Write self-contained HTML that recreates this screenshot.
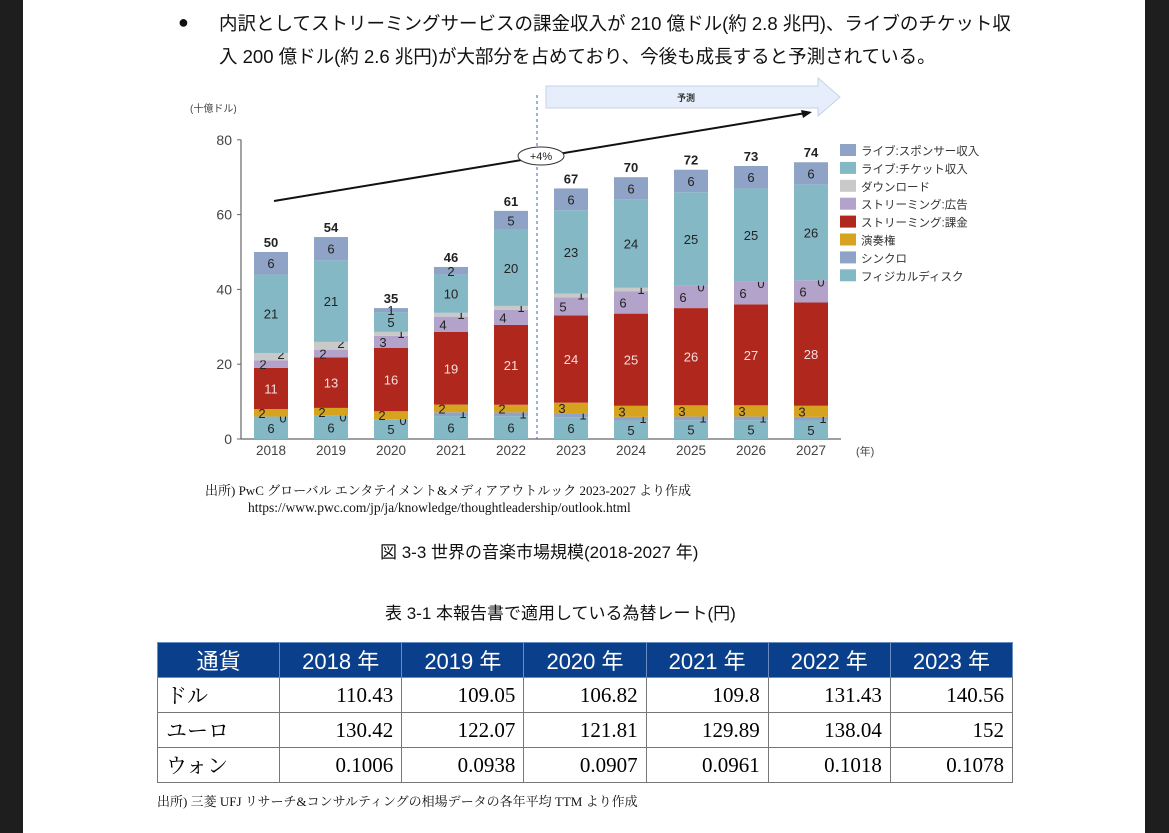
<!DOCTYPE html>
<html><head><meta charset="utf-8"><style>
body{margin:0;width:1169px;height:833px;background:#1e1e1e;overflow:hidden;font-family:"Liberation Sans","Noto Sans CJK JP",sans-serif}
#page{position:absolute;left:23px;top:0;width:1122px;height:833px;background:#fff}
.t{position:absolute;white-space:nowrap;color:#111}
table{position:absolute;left:157px;top:642px;width:856px;table-layout:fixed;border-collapse:collapse;font-family:"Liberation Serif","Noto Serif CJK SC",serif}
td,th{border:1.5px solid #777;height:35px;padding:0 8px;font-size:21px;box-sizing:border-box}
th{background:#0a3f8c;color:#fff;font-weight:normal;font-family:"Liberation Sans","Noto Sans CJK JP",sans-serif;border-color:#6a8cc0;font-size:22px}
td{text-align:right}
td:first-child{text-align:left}
</style></head><body>
<div id="page"></div>
<div class="t" style="left:178px;top:12px;font-size:18px">●</div>
<div class="t" style="left:219px;top:10px;font-size:18.5px">内訳としてストリーミングサービスの課金収入が 210 億ドル(約 2.8 兆円)、ライブのチケット収</div>
<div class="t" style="left:219px;top:43px;font-size:18.5px">入 200 億ドル(約 2.6 兆円)が大部分を占めており、今後も成長すると予測されている。</div>

<svg id="chart" style="position:absolute;left:0;top:0" width="1169" height="470"></svg>

<div class="t" style="left:205px;top:480px;font-size:13px;font-family:'Liberation Serif','Noto Serif CJK JP',serif">出所) PwC グローバル エンタテイメント&amp;メディアアウトルック 2023-2027 より作成</div>
<div class="t" style="left:248px;top:500px;font-size:13.5px;font-family:'Liberation Serif',serif">https://www.pwc.com/jp/ja/knowledge/thoughtleadership/outlook.html</div>
<div class="t" style="left:380px;top:538px;font-size:17px">図 3-3 世界の音楽市場規模(2018-2027 年)</div>
<div class="t" style="left:385px;top:599px;font-size:17px">表 3-1 本報告書で適用している為替レート(円)</div>

<table>
<tr><th>通貨</th><th>2018 年</th><th>2019 年</th><th>2020 年</th><th>2021 年</th><th>2022 年</th><th>2023 年</th></tr>
<tr><td>ドル</td><td>110.43</td><td>109.05</td><td>106.82</td><td>109.8</td><td>131.43</td><td>140.56</td></tr>
<tr><td>ユーロ</td><td>130.42</td><td>122.07</td><td>121.81</td><td>129.89</td><td>138.04</td><td>152</td></tr>
<tr><td>ウォン</td><td>0.1006</td><td>0.0938</td><td>0.0907</td><td>0.0961</td><td>0.1018</td><td>0.1078</td></tr>
</table>
<div class="t" style="left:157px;top:791px;font-size:13px;font-family:'Liberation Serif','Noto Serif CJK JP',serif">出所) 三菱 UFJ リサーチ&amp;コンサルティングの相場データの各年平均 TTM より作成</div>

<script>
const years=["2018","2019","2020","2021","2022","2023","2024","2025","2026","2027"];
const totals=[50,54,35,46,61,67,70,72,73,74];
const seriesNames=["フィジカルディスク","シンクロ","演奏権","ストリーミング:課金","ストリーミング:広告","ダウンロード","ライブ:チケット収入","ライブ:スポンサー収入"];
const physical=[6,6,5,6,6,6,5,5,5,5];
const sync=[0,0,0,1,1,1,1,1,1,1];
const performance=[2,2,2,2,2,3,3,3,3,3];
const subscription=[11,13,16,19,21,24,25,26,27,28];
const adSupported=[2,2,3,4,4,5,6,6,6,6];
const download=[2,2,1,1,1,1,1,0,0,0];
const ticket=[21,21,5,10,20,23,24,25,25,26];
const sponsor=[6,6,1,2,5,6,6,6,6,6];
const yTicks=[0,20,40,60,80];
const series=[physical,sync,performance,subscription,adSupported,download,ticket,sponsor];
const colors=["#85b8c5","#8fa3c6","#d6a31e","#b0281d","#b3a2c9","#c9c9c9","#85b8c5","#8fa3c6"];
const txtCol=["#222","#222","#222","#f3dede","#222","#222","#222","#222"];
const dx=[0,12,-9,0,-8,10,0,0];
const svg=document.getElementById('chart');
const NS="http://www.w3.org/2000/svg";
function y(v){return 439-v*3.74;}
function x(i){return 271+i*60;}
function mk(t,a,txt){const e=document.createElementNS(NS,t);for(const k in a)e.setAttribute(k,a[k]);if(txt!==undefined)e.textContent=txt;svg.appendChild(e);return e;}
let e=mk('polygon',{points:"546,86 818,86 818,78 840,97 818,116 818,108 546,108",fill:"#e6eefb",stroke:"#c5d3ea"});

e=mk('text',{x:686,y:101,'font-size':9,'font-weight':'bold','text-anchor':'middle',fill:'#333'},'予測');

e=mk('line',{x1:537,y1:95,x2:537,y2:439,stroke:'#5a7fd6','stroke-dasharray':'3,3','stroke-width':1.2});

e=mk('text',{x:190,y:112,'font-size':10,fill:'#444'},'(十億ドル)');

yTicks.forEach(v=>{
 e=mk('text',{x:232,y:y(v)+5,'font-size':14,'text-anchor':'end',fill:'#444'},v);
 
 mk('line',{x1:237,x2:241,y1:y(v),y2:y(v),stroke:'#666'});
});
e=mk('line',{x1:241,y1:y(80),x2:241,y2:439,stroke:'#666','stroke-width':1.2});

e=mk('line',{x1:241,y1:439,x2:841,y2:439,stroke:'#666','stroke-width':1.2});

years.forEach((yr,i)=>{
 let sum=0; series.forEach(s=>sum+=s[i]);
 const sc=totals[i]/sum;
 let base=0;
 series.forEach((s,k)=>{
  const v=s[i], h=v*sc;
  const r=mk('rect',{x:x(i)-17,y:y(base+h),width:34,height:h*3.74,fill:colors[k]});
  
  
  const ty=(k==1||k==5)?y(base+h)+6:y(base+h/2)+5;
  const tt=mk('text',{x:x(i)+dx[k],y:ty,'font-size':13,'text-anchor':'middle',fill:txtCol[k]},v);
  
  
  base+=h;
 });
 const tl=mk('text',{x:x(i),y:y(base)-5,'font-size':13,'font-weight':'bold','text-anchor':'middle',fill:'#222'},totals[i]);
 
 
 const xl=mk('text',{x:x(i),y:455,'font-size':13.5,'text-anchor':'middle',fill:'#444'},yr);
 
 
});
e=mk('text',{x:856,y:455,'font-size':11,fill:'#444'},'(年)');

e=mk('line',{x1:274,y1:201,x2:806,y2:113,stroke:'#111','stroke-width':2});

mk('polygon',{points:"812,112 801,110 803,118",fill:'#111'});
e=mk('ellipse',{cx:541,cy:156,rx:23,ry:9,fill:'#fff',stroke:'#333'});

mk('text',{x:541,y:160,'font-size':11,'text-anchor':'middle',fill:'#222'},'+4%');
for(let k=7;k>=0;k--){
 const row=7-k, ly=144+row*17.9;
 const g=mk('rect',{x:840,y:ly,width:16,height:12,fill:colors[k]});
 
 const lt=mk('text',{x:861,y:ly+11,'font-size':11.5,fill:'#333'},seriesNames[k]);
 
}
</script>
</body></html>
